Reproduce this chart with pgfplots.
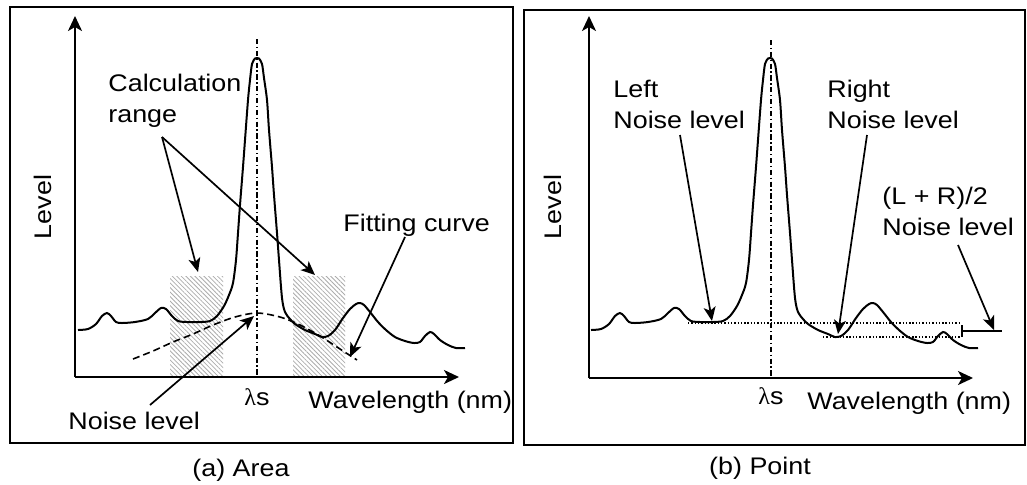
\documentclass[border=0pt]{standalone}
\usepackage{fontspec}
\setmainfont{Liberation Sans}[FakeStretch=1.12]
\newfontfamily\greekfont{Liberation Serif}
\usepackage{pgfplots}
\pgfplotsset{compat=1.18}
\usepackage{pgfplotstable}
\usetikzlibrary{arrows.meta,patterns.meta}

% spectrum, pixel coordinates of panel (a)
\pgfplotstableread{
x y
78 330
88 329
96 324
102 316
107 313
111 316
116 322
122 323
135 322
148 319
155 313
161 308
166 309
172 316
178 321
187 322
200 322
210 321
217 316
224 306
229 295
233 283
236 260
238 233
240 205
243 167
245 140
248 100
250 80
252 64
255 58.5
257 58
259 58.5
262 64
264 78
267 100
269 130
272 167
274 195
277 233
279 260
282 298
285 312
290 319
295 324
305 330
315 334
322 337
328 336
335 330
343 318
350 309
356 304
360 303
364 305
370 312
378 322
386 330
395 337
405 341
414 343
420 342
425 336
430 332
434 334
440 340
448 345
456 348
465 348
}\spectrum

\pgfplotstableread{
x y
133 359
153 351
173 342
193 334
213 325
235 317
257 313
280 317
300 325
320 336
340 349
357 360
}\fitcurve

\tikzset{
  lab/.style={font=\fontsize{12}{14.4}\selectfont, inner sep=0pt, text=black},
  arr/.style={line width=0.85pt, -{Stealth[length=7pt,width=6pt,inset=1.8pt]}},
  axarr/.style={line width=1pt, -{Stealth[length=7.5pt,width=7pt,inset=2pt]}},
  dashdot/.style={line width=0.75pt, dash pattern=on 2.6pt off 1.3pt on 0.7pt off 1.3pt},
  hatch/.style={draw=none, pattern={Lines[angle=-45,distance=1.6pt,line width=0.4pt]}, pattern color=gray!65},
}

\begin{document}
\begin{tikzpicture}
\begin{axis}[
  x=0.5pt, y=0.5pt,
  xmin=0, xmax=1027, ymin=0, ymax=484,
  y dir=reverse,
  hide axis, clip=false,
  scale only axis,
]
\addplot[draw=none, forget plot] coordinates {(0,0) (1027,484)};

% ---------------- panel (a) ----------------
\addplot[line width=1pt] coordinates {(10,7) (513,7) (513,443) (10,443)} -- cycle;
\addplot[hatch] coordinates {(170,276) (223,276) (223,376) (170,376)} -- cycle;
\addplot[hatch] coordinates {(293,276) (345,276) (345,376) (293,376)} -- cycle;
\addplot[dashdot] coordinates {(257,39) (257,377)};
\addplot[axarr] coordinates {(75,377) (75,16)};
\addplot[axarr] coordinates {(75,377) (459,377)};
\addplot[line width=1pt, smooth] table[x=x, y=y] {\spectrum};
\addplot[line width=0.8pt, smooth, dash pattern=on 3.5pt off 2pt] table[x=x, y=y] {\fitcurve};
\addplot[arr] coordinates {(162,137) (198,272)};
\addplot[arr] coordinates {(162,137) (315,275)};
\addplot[arr] coordinates {(405,237) (350,357)};
\addplot[arr] coordinates {(150,405) (254,316)};

\node[lab, anchor=base west] at (axis cs:108,91) {Calculation};
\node[lab, anchor=base west] at (axis cs:108,122) {range};
\node[lab, anchor=base west] at (axis cs:343,231) {Fitting curve};
\node[lab, rotate=90] at (axis cs:43,207) {Level};
\node[lab, anchor=base] at (axis cs:257,405) {{\greekfont λ}s};
\node[lab, anchor=base west] at (axis cs:308,408) {Wavelength (nm)};
\node[lab, anchor=base west] at (axis cs:68,429) {Noise level};
\node[lab, anchor=base] at (axis cs:241,476) {(a) Area};

% ---------------- panel (b) ----------------
\addplot[line width=1pt] coordinates {(524,10) (1025,10) (1025,445) (524,445)} -- cycle;
\addplot[dashdot] coordinates {(771,40) (771,378)};
\addplot[axarr] coordinates {(589,378) (589,16)};
\addplot[axarr] coordinates {(589,378) (973,378)};
\addplot[line width=1pt, smooth] table[x expr=\thisrow{x}+513, y=y] {\spectrum};
\addplot[line width=0.7pt, dash pattern=on 0.7pt off 0.95pt] coordinates {(688,323) (960,323)};
\addplot[line width=0.7pt, dash pattern=on 0.7pt off 0.95pt] coordinates {(823,337) (960,337)};
\addplot[line width=0.9pt] coordinates {(962,325) (962,337)};
\addplot[line width=0.9pt] coordinates {(962,331) (1002,331)};
\addplot[arr] coordinates {(680,135) (712,321)};
\addplot[arr] coordinates {(867,135) (838,334)};
\addplot[arr] coordinates {(958,245) (994,330)};

\node[lab, anchor=base west] at (axis cs:613,97) {Left};
\node[lab, anchor=base west] at (axis cs:613,128) {Noise level};
\node[lab, anchor=base west] at (axis cs:827,97) {Right};
\node[lab, anchor=base west] at (axis cs:827,128) {Noise level};
\node[lab, anchor=base west] at (axis cs:882,204) {(L + R)/2};
\node[lab, anchor=base west] at (axis cs:882,235) {Noise level};
\node[lab, rotate=90] at (axis cs:553,207) {Level};
\node[lab, anchor=base] at (axis cs:771,404) {{\greekfont λ}s};
\node[lab, anchor=base west] at (axis cs:807,409) {Wavelength (nm)};
\node[lab, anchor=base] at (axis cs:760,474) {(b) Point};
\end{axis}
\end{tikzpicture}
\end{document}
